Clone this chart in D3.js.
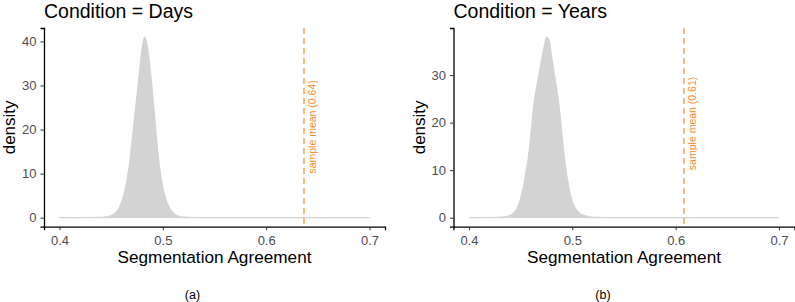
<!DOCTYPE html>
<html>
<head>
<meta charset="utf-8">
<script src="https://cdn.jsdelivr.net/npm/d3@7"></script>
<style>
  body { margin: 0; background: #fff; }
  svg { display: block; }
  text { font-family: "Liberation Sans", Arial, sans-serif; }
</style>
</head>
<body>
<script>
// values
var conditions = ["Days", "Years"];
var captions = ["(a)", "(b)"];
var sampleMeans = [0.6366, 0.608];
var meanLabels = ["sample mean (0.64)", "sample mean (0.61)"];
var xTicks = [0.4, 0.5, 0.6, 0.7];
var yTicksDays = [0, 10, 20, 30, 40];
var yTicksYears = [0, 10, 20, 30];

var daysX = [0.400, 0.430, 0.440, 0.445, 0.450, 0.4525, 0.455, 0.4575, 0.460, 0.4625, 0.465, 0.4675,
             0.470, 0.4725, 0.475, 0.4775, 0.480, 0.4825, 0.485, 0.4875, 0.490, 0.4925, 0.495,
             0.4975, 0.500, 0.5025, 0.505, 0.5075, 0.510, 0.5125, 0.515, 0.520, 0.530, 0.540, 0.700];
var daysDensity = [0, 0.05, 0.1, 0.2, 0.5, 0.9, 1.4, 2.2, 3.6, 5.5, 8.3, 12,
                   17, 22.5, 28, 33.5, 38.5, 41, 39, 34.5, 28.5, 22, 15.5,
                   10.5, 7, 4.6, 3, 1.9, 1.2, 0.7, 0.4, 0.15, 0.05, 0, 0];

var yearsX = [0.400, 0.420, 0.430, 0.435, 0.440, 0.4425, 0.445, 0.4475, 0.450, 0.4525, 0.455, 0.4575,
              0.460, 0.4625, 0.465, 0.4675, 0.470, 0.4725, 0.475, 0.4775, 0.480, 0.4825, 0.485,
              0.4875, 0.490, 0.4925, 0.495, 0.4975, 0.500, 0.5025, 0.505, 0.510, 0.515, 0.520,
              0.530, 0.540, 0.700];
var yearsDensity = [0, 0.05, 0.1, 0.2, 0.5, 0.9, 1.5, 2.5, 4.2, 6.5, 9.5, 13,
                    18, 23.5, 27, 30, 33, 35.8, 38, 37.5, 34, 30.5, 27,
                    23, 17.5, 12.5, 8.5, 5.5, 3.5, 2.2, 1.4, 0.6, 0.3, 0.1,
                    0.04, 0, 0];

var panels = [
  {x: daysX, y: daysDensity, ticks: yTicksDays},
  {x: yearsX, y: yearsDensity, ticks: yTicksYears}
];

var width = 795, height = 302;
var svg = d3.select("body").append("svg")
  .attr("width", width)
  .attr("height", height);

var plotLeft = 44, plotW = 341, plotTop = 28, plotBottom = 226.7, offset = 409.5;

panels.forEach(function(p, i) {
  var pts = p.x.map(function(v, j) { return {x: v, y: p.y[j]}; });
  var ymax = d3.max(p.y);

  var x = d3.scaleLinear()
    .domain([0.385, 0.715])
    .range([plotLeft + i * offset, plotLeft + i * offset + plotW]);
  var y = d3.scaleLinear()
    .domain([-ymax * 0.05, ymax * 1.05])
    .range([plotBottom, plotTop]);

  var g = svg.append("g");

  var area = d3.area()
    .x(function(d) { return x(d.x); })
    .y0(y(0))
    .y1(function(d) { return y(d.y); })
    .curve(d3.curveMonotoneX);

  g.append("path")
    .datum(pts)
    .attr("d", area)
    .attr("fill", "#d3d3d3")
    .attr("stroke", "#d3d3d3")
    .attr("stroke-width", 1);

  // sample mean
  var mx = x(sampleMeans[i]);
  g.append("line")
    .attr("x1", mx).attr("x2", mx)
    .attr("y1", plotTop).attr("y2", plotBottom)
    .attr("stroke", "#ff9a45")
    .attr("stroke-width", 1.4)
    .attr("stroke-dasharray", "6,4");

  g.append("text")
    .attr("transform", "translate(" + (mx + 12.5) + "," + y(10) + ") rotate(-90)")
    .attr("font-size", "10.5px")
    .attr("fill", "#f58a2c")
    .text(meanLabels[i]);

  // axes
  var xAxis = g.append("g")
    .attr("transform", "translate(0," + plotBottom + ")")
    .call(d3.axisBottom(x).tickValues(xTicks).tickSize(3.5).tickPadding(5.5)
      .tickFormat(d3.format(".1f")));
  var yAxis = g.append("g")
    .attr("transform", "translate(" + x.range()[0] + ",0)")
    .call(d3.axisLeft(y).tickValues(p.ticks).tickSize(3.5).tickPadding(4));

  [xAxis, yAxis].forEach(function(a) {
    a.attr("font-size", 13).attr("font-family", "Liberation Sans, Arial, sans-serif");
    a.select(".domain").attr("stroke", "#000").attr("stroke-width", 1.3);
    a.selectAll(".tick line").attr("stroke", "#333").attr("stroke-width", 1);
    a.selectAll(".tick text")
      .attr("fill", "#4d4d4d")
      .attr("font-size", 13);
  });

  // titles
  g.append("text")
    .attr("x", x.range()[0])
    .attr("y", 17.5)
    .attr("font-size", "19.5px")
    .attr("fill", "#000")
    .text("Condition = " + conditions[i]);

  g.append("text")
    .attr("x", (x.range()[0] + x.range()[1]) / 2)
    .attr("y", 263)
    .attr("text-anchor", "middle")
    .attr("font-size", "17.2px")
    .attr("fill", "#000")
    .text("Segmentation Agreement");

  g.append("text")
    .attr("transform", "translate(" + (x.range()[0] - 29) + "," + ((plotTop + plotBottom) / 2) + ") rotate(-90)")
    .attr("text-anchor", "middle")
    .attr("font-size", "17px")
    .attr("fill", "#000")
    .text("density");

  g.append("text")
    .attr("x", i === 0 ? 192.5 : 603)
    .attr("y", 299)
    .attr("text-anchor", "middle")
    .attr("font-size", "12.5px")
    .attr("font-family", "DejaVu Serif, Liberation Serif, serif")
    .attr("fill", "#000")
    .text(captions[i]);
});
</script>
</body>
</html>
